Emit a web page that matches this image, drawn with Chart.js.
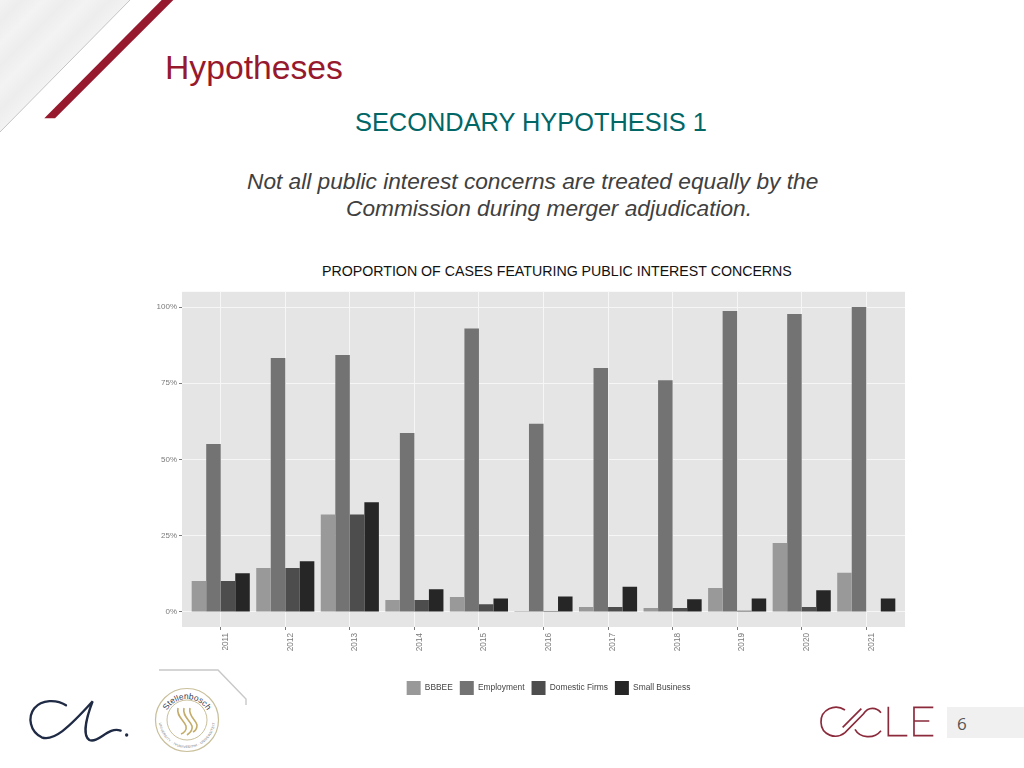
<!DOCTYPE html>
<html>
<head>
<meta charset="utf-8">
<title>Hypotheses</title>
<script src="https://cdn.jsdelivr.net/npm/chart.js@4"></script>
<style>
  html, body { margin: 0; padding: 0; background: #fff; }
  body { width: 1024px; height: 768px; position: relative; overflow: hidden; font-family: "Liberation Sans", Arial, sans-serif; }
  .txt { position: absolute; white-space: nowrap; line-height: 1; }
  #deco { position: absolute; left: 0; top: 0; }
  #chartBox { position: absolute; left: 148px; top: 285px; }
  #pageBox { position: absolute; left: 947px; top: 707px; width: 77px; height: 31px; background: #f0f0f0; }
</style>
</head>
<body>

<svg id="deco" width="1024" height="768" viewBox="0 0 1024 768">
  <defs>
    <linearGradient id="bands" gradientUnits="userSpaceOnUse" x1="0" y1="0" x2="22" y2="22" spreadMethod="repeat">
      <stop offset="0" stop-color="#f3f3f3"/>
      <stop offset="0.5" stop-color="#ededed"/>
      <stop offset="1" stop-color="#f3f3f3"/>
    </linearGradient>
  </defs>
  <polygon points="0,0 130,0 0,132" fill="url(#bands)"/>
  <line x1="130" y1="0" x2="0" y2="132" stroke="#c4c4c4" stroke-width="1"/>
  <polygon points="161.7,0 173.3,0 55,118.3 44.3,118.3" fill="#97192e"/>

  <!-- signature mark -->
  <g transform="translate(0,660) scale(0.3333)" fill="none" stroke="#1f2a44" stroke-width="7" stroke-linecap="round">
    <path d="M198,136 C170,118 125,118 103,145 C82,172 90,215 125,232 C160,245 205,205 278,124 C262,165 245,225 268,240 C295,252 325,198 362,212"/>
    <circle cx="380" cy="225" r="5" fill="#1f2a44" stroke="none"/>
  </g>

  <!-- university seal -->
  <g>
    <circle cx="187" cy="720" r="31.5" fill="#fff" stroke="#c9bf9a" stroke-width="1.2"/>
    <circle cx="187" cy="720" r="20" fill="#fff" stroke="#c9bf9a" stroke-width="1"/>
    <path id="sealTop" d="M164,722 A23,23 0 0 1 210,722" fill="none"/>
    <path id="sealBot" d="M159,720 A28,28 0 0 0 215,720" fill="none"/>
    <text font-family="'Liberation Sans', sans-serif" font-size="8.4" fill="#3a3a4a">
      <textPath href="#sealTop" startOffset="50%" text-anchor="middle">Stellenbosch</textPath>
    </text>
    <text font-family="'Liberation Sans', sans-serif" font-size="3.4" fill="#6a6a6a" letter-spacing="0.25">
      <textPath href="#sealBot" startOffset="50%" text-anchor="middle">UNIVERSITY · IYUNIVESITHI · UNIVERSITEIT</textPath>
    </text>
    <g fill="none" stroke="#c4ad6a" stroke-width="1.6">
      <path d="M178,708 C176,716 184,720 186,726 C187,730 184,733 181,734"/>
      <path d="M184,708 C182,716 190,720 192,726 C193,730 190,733 187,735"/>
      <path d="M190,708 C188,716 196,720 197,725 C197,729 195,731 193,732"/>
    </g>
  </g>

  <!-- footer corner rule -->
  <polyline points="159,670 218,670 246,699 246,705" fill="none" stroke="#c8c8c8" stroke-width="1.4"/>

  <!-- CLE mark -->
  <g transform="translate(800,690) scale(0.3333)" fill="none" stroke="#8b2a3b" stroke-width="5">
    <path d="M135,60 C105,40 62,58 63,97 C64,136 108,150 135,128 L190,72 C205,48 230,52 243,68"/>
    <path d="M128,112 L184,56"/>
    <path d="M243,122 C222,148 180,145 165,118"/>
    <path d="M265,50 L265,137 L322,137"/>
    <path d="M400,52 L342,52 L342,137 L400,137 M342,93 L388,93"/>
  </g>
</svg>

<div class="txt" style="left:165px;top:51px;font-size:33.7px;color:#97192e;">Hypotheses</div>
<div class="txt" style="left:355px;top:110px;font-size:25.4px;color:#006666;">SECONDARY HYPOTHESIS 1</div>
<div class="txt" style="left:247px;top:170px;font-size:22.7px;font-style:italic;color:#404040;">Not all public interest concerns are treated equally by the</div>
<div class="txt" style="left:346px;top:197px;font-size:22.7px;font-style:italic;color:#404040;">Commission during merger adjudication.</div>
<div class="txt" style="left:322px;top:264px;font-size:14.2px;color:#111;">PROPORTION OF CASES FEATURING PUBLIC INTEREST CONCERNS</div>

<div id="chartBox"><canvas id="casesChart" width="800" height="420"></canvas></div>

<div id="pageBox"></div>
<div class="txt" style="left:957px;top:715px;font-size:17px;color:#555;font-family:'Open Sans',sans-serif;">6</div>

<script>
const years = [2011, 2012, 2013, 2014, 2015, 2016, 2017, 2018, 2019, 2020, 2021];
const bbbee = [10.2, 14.4, 32, 3.9, 4.9, 0.3, 1.6, 1.3, 7.9, 22.6, 12.9];
const employment = [55.1, 83.3, 84.3, 58.7, 93, 61.7, 80, 76, 98.7, 97.7, 100];
const domesticFirms = [10.2, 14.4, 32, 3.9, 2.5, 0.3, 1.6, 1.3, 0.4, 1.6, 0];
const smallBusiness = [12.7, 16.6, 36, 7.5, 4.4, 5.1, 8.3, 4.2, 4.4, 7.1, 4.4];
const yTicks = [0, 25, 50, 75, 100];

const tickColor = '#7a7a7a';

function points(values) {
    return values.map((v, i) => ({ x: years[i], y: v }));
}

// grey panel behind the grid, and nudge the legend so it sits where the picture has it
const panel = {
    id: 'panel',
    beforeDraw(chart) {
        const a = chart.chartArea;
        chart.ctx.save();
        chart.ctx.fillStyle = '#e5e5e5';
        chart.ctx.fillRect(a.left, a.top, a.right - a.left, a.bottom - a.top);
        chart.ctx.restore();
    },
    afterLayout(chart) {
        chart.legend.left += 22;
        chart.legend.right += 22;
    }
};

new Chart(document.getElementById('casesChart'), {
    type: 'bar',
    plugins: [panel],
    data: {
        datasets: [
            { label: 'BBBEE', data: points(bbbee), backgroundColor: '#999999' },
            { label: 'Employment', data: points(employment), backgroundColor: '#737373' },
            { label: 'Domestic Firms', data: points(domesticFirms), backgroundColor: '#4d4d4d' },
            { label: 'Small Business', data: points(smallBusiness), backgroundColor: '#262626' }
        ]
    },
    options: {
        responsive: false,
        animation: false,
        layout: { padding: { top: 5, right: 43 } },
        datasets: { bar: { categoryPercentage: 0.9, barPercentage: 1 } },
        plugins: {
            tooltip: { enabled: false },
            legend: {
                position: 'bottom',
                labels: {
                    boxWidth: 14,
                    boxHeight: 14,
                    padding: 7,
                    color: '#444',
                    font: { family: 'Liberation Sans', size: 8.4 }
                }
            }
        },
        scales: {
            x: {
                type: 'linear',
                offset: false,
                min: 2010.4,
                max: 2021.6,
                afterBuildTicks(scale) { scale.ticks = years.map(v => ({ value: v })); },
                afterFit(scale) { scale.height = 47; },
                border: { display: false },
                grid: { offset: false, color: '#f6f6f6', lineWidth: 1, tickColor: tickColor, tickLength: 3 },
                ticks: {
                    autoSkip: false,
                    minRotation: 90,
                    maxRotation: 90,
                    padding: 3,
                    labelOffset: 5,
                    color: tickColor,
                    font: { family: 'Liberation Sans', size: 8.2 },
                    callback: v => String(v)
                }
            },
            y: {
                min: -4.92,
                max: 105,
                afterBuildTicks(scale) { scale.ticks = yTicks.map(v => ({ value: v })); },
                afterFit(scale) { scale.width = 34; },
                border: { display: false },
                grid: { color: '#f6f6f6', lineWidth: 1, tickColor: tickColor, tickLength: 3 },
                ticks: {
                    padding: 2,
                    color: tickColor,
                    font: { family: 'Liberation Sans', size: 8 },
                    callback: v => v + '%'
                }
            }
        }
    }
});
</script>
</body>
</html>
